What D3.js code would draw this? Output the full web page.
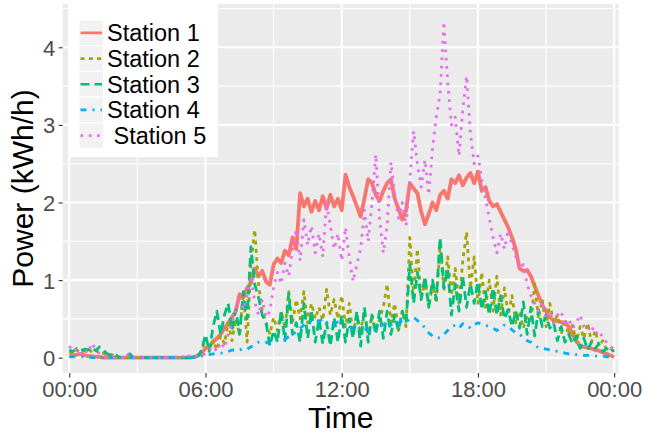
<!DOCTYPE html>
<html><head><meta charset="utf-8">
<script src="https://cdn.jsdelivr.net/npm/d3@7/dist/d3.min.js"></script>
<style>
body{margin:0;background:#fff}
text{font-family:"Liberation Sans",Arial,Helvetica,sans-serif}
</style>
</head><body>
<svg id="chart" width="646" height="436"></svg>
<script>
// sampling grid: one reading every 10 minutes, 00:00 .. 24:00 (hours)
const sampleMinutes = d3.range(0, 1441, 10);

const station1 = [
0.03,0.03,0.04,0.05,0.03,0.02,0.02,0.01,0.01,0,0,0,
0,0,0,0,0,0,0,0,0,0,0,0,
0,0,0,0,0,0,0,0,0,0.01,0.03,0.06,
0.12,0.15,0.2,0.25,0.3,0.38,0.45,0.52,0.6,0.82,0.78,0.9,
0.96,1.15,1.05,1.12,0.98,0.94,1.2,1.28,1.22,1.38,1.32,1.55,
1.4,2.12,1.95,2.05,1.88,2.02,1.9,2.08,1.92,2.1,1.95,2.05,
1.9,2.36,2.2,2.08,1.95,1.82,2.05,2.3,2.25,2.1,2.02,2.15,
2.25,2.3,2.05,1.92,1.78,1.9,2.25,2.18,2.12,1.88,1.72,1.85,
2.0,1.9,2.1,2.15,2.05,2.3,2.25,2.35,2.22,2.32,2.38,2.25,
2.4,2.15,2.2,2.02,1.95,1.98,1.88,1.78,1.68,1.55,1.4,1.15,
1.12,1.13,1.05,0.92,0.8,0.68,0.6,0.52,0.48,0.47,0.46,0.45,
0.4,0.3,0.22,0.15,0.14,0.13,0.12,0.1,0.09,0.07,0.05,0.03,
0.01];
const station2 = [
0.08,0.05,0.1,0.06,0.09,0.12,0.07,0.1,0.05,0.06,0.03,0.04,
0.03,0,0,0,0,0,0,0,0,0,0,0,
0,0,0,0,0,0,0,0,0,0,0.02,0.08,
0.25,0.12,0.22,0.1,0.28,0.18,0.45,0.22,0.5,0.3,0.85,0.2,
1.2,1.65,0.95,0.6,0.45,0.3,0.52,0.35,0.6,0.38,0.85,0.45,
0.75,0.5,0.85,0.45,0.7,0.5,0.65,0.48,0.88,0.55,0.75,0.5,
0.8,0.4,0.7,0.3,0.55,0.35,0.6,0.3,0.55,0.35,0.5,0.65,
0.95,0.45,0.7,0.35,0.6,0.4,1.55,0.8,1.4,0.75,1.0,0.65,
0.95,0.7,1.47,0.85,1.3,0.8,1.15,0.7,1.25,1.62,0.9,1.3,
0.7,1.1,0.65,1.0,0.6,1.05,0.55,0.9,0.55,0.8,0.45,0.6,
0.38,0.55,0.45,0.95,0.5,0.75,0.4,0.7,0.45,0.55,0.3,0.5,
0.28,0.42,0.2,0.4,0.25,0.45,0.2,0.35,0.15,0.22,0.1,0.12,
0.08];
const station3 = [
0.1,0.08,0.12,0.09,0.11,0.1,0.13,0.09,0.14,0.1,0.05,0.03,
0.05,0.01,0,0.01,0.05,0,0,0,0,0,0,0,
0,0,0,0,0,0,0,0,0,0,0.02,0.1,
0.3,0.08,0.4,0.6,0.3,0.55,0.7,0.35,0.62,0.3,0.85,0.5,
1.43,0.95,0.78,0.55,0.45,0.15,0.35,0.2,0.6,0.22,0.83,0.3,
0.45,0.2,0.7,0.25,0.6,0.2,0.5,0.18,0.45,0.15,0.52,0.2,
0.55,0.2,0.5,0.25,0.6,0.15,0.65,0.2,0.55,0.3,0.6,0.25,
0.6,0.3,0.55,0.35,0.6,0.45,1.2,0.7,1.1,0.75,1.05,0.65,
1.0,0.75,1.55,0.9,1.15,0.55,0.95,0.6,1.05,0.65,0.95,0.7,
0.98,0.62,0.85,0.55,0.9,0.55,0.8,0.5,0.62,0.4,0.6,0.38,
0.72,0.3,0.65,0.28,0.62,0.4,0.55,0.38,0.45,0.22,0.4,0.2,
0.3,0.18,0.28,0.12,0.25,0.1,0.2,0.12,0.18,0.08,0.12,0.07,
0.1];
const station4 = [
0.01,0.01,0.01,0.01,0.01,0.01,0,0,0,0,0,0,
0,0,0,0,0,0,0,0,0,0,0,0,
0,0,0,0,0,0,0,0,0,0,0,0.02,
0.03,0.04,0.05,0.05,0.06,0.06,0.08,0.1,0.09,0.1,0.12,0.11,
0.14,0.16,0.2,0.21,0.2,0.18,0.2,0.22,0.21,0.24,0.27,0.3,
0.33,0.38,0.42,0.45,0.48,0.5,0.47,0.5,0.45,0.48,0.44,0.46,
0.42,0.45,0.4,0.38,0.42,0.36,0.38,0.34,0.38,0.35,0.4,0.43,
0.45,0.42,0.46,0.44,0.48,0.46,0.5,0.52,0.48,0.45,0.38,0.32,
0.28,0.25,0.26,0.3,0.35,0.4,0.42,0.38,0.44,0.42,0.38,0.42,
0.45,0.43,0.42,0.4,0.38,0.35,0.38,0.42,0.4,0.36,0.32,0.3,
0.26,0.22,0.2,0.16,0.13,0.12,0.11,0.1,0.1,0.08,0.07,0.06,
0.05,0.05,0.04,0.04,0.03,0.03,0.03,0.02,0.02,0.02,0.01,0.01,
0];
const station5 = [
0.15,0.08,0.12,0.05,0.1,0.06,0.19,0.1,0.05,0.03,0.02,0,
0,0,0,0.06,0,0,0,0,0,0,0,0,
0,0,0,0,0,0,0,0.06,0,0.01,0.02,0.03,
0.05,0.1,0.15,0.08,0.2,0.12,0.3,0.45,0.6,0.78,0.62,0.8,
1.05,0.72,0.55,0.75,0.52,0.6,0.9,1.1,0.95,1.22,1.05,1.4,
1.65,1.25,1.78,1.45,1.7,1.35,1.6,1.3,2.0,1.7,1.4,1.6,
1.25,1.68,1.3,0.98,1.2,1.4,1.9,1.5,2.0,2.62,1.8,1.35,
1.7,2.52,2.1,1.8,2.0,1.7,2.3,2.92,2.5,2.2,2.55,2.1,
2.7,3.1,3.4,4.33,3.55,3.0,3.1,2.6,3.2,3.63,2.9,2.5,
2.6,2.3,2.05,1.8,1.55,1.35,1.6,1.4,1.65,1.45,1.3,1.15,
1.2,0.95,0.8,0.7,0.6,0.72,0.5,0.6,0.45,0.55,0.6,0.4,
0.5,0.38,0.45,0.55,0.4,0.35,0.42,0.3,0.35,0.25,0.2,0.15,
0.1];

const seriesNames = ["Station 1","Station 2","Station 3","Station 4"," Station 5"];
const seriesColors = ["#F8766D","#A3A500","#00BF7D","#00B0F6","#E76BF3"];
const seriesDashes = [null,"4,4.3","9,5","6,6,2,6","2.6,5.7"];
const xTickHours = [0,6,12,18,24];
const xTickLabels = ["00:00","06:00","12:00","18:00","00:00"];
const yTickValues = [0,1,2,3,4];
const xMinorHours = [3,9,15,21];
const yMinorValues = [0.5,1.5,2.5,3.5,4.5];

const allSeries = [station1,station2,station3,station4,station5];

const svg = d3.select("#chart");
const panel = {left:62.7, right:618.7, top:4, bottom:373};

const x = d3.scaleLinear().domain([-0.29, 24.2]).range([panel.left, panel.right]);
const y = d3.scaleLinear().domain([-0.197, 4.558]).range([panel.bottom, panel.top]);

svg.append("rect").attr("x",panel.left).attr("y",panel.top)
  .attr("width",panel.right-panel.left).attr("height",panel.bottom-panel.top)
  .attr("fill","#EBEBEB");

const grid = svg.append("g");
grid.selectAll(".ymin").data(yMinorValues).join("line")
  .attr("x1",panel.left).attr("x2",panel.right)
  .attr("y1",d=>y(d)).attr("y2",d=>y(d))
  .attr("stroke","#fff").attr("stroke-width",1.1);
grid.selectAll(".xmin").data(xMinorHours).join("line")
  .attr("y1",panel.top).attr("y2",panel.bottom)
  .attr("x1",d=>x(d)).attr("x2",d=>x(d))
  .attr("stroke","#fff").attr("stroke-width",1.1);
grid.selectAll(".ymaj").data(yTickValues).join("line")
  .attr("x1",panel.left).attr("x2",panel.right)
  .attr("y1",d=>y(d)).attr("y2",d=>y(d))
  .attr("stroke","#fff").attr("stroke-width",2.1);
grid.selectAll(".xmaj").data(xTickHours).join("line")
  .attr("y1",panel.top).attr("y2",panel.bottom)
  .attr("x1",d=>x(d)).attr("x2",d=>x(d))
  .attr("stroke","#fff").attr("stroke-width",2.1);

const line = d3.line()
  .x((d,i)=>x(sampleMinutes[i]/60))
  .y(d=>y(d));

const clip = svg.append("clipPath").attr("id","pc").append("rect")
  .attr("x",panel.left).attr("y",panel.top)
  .attr("width",panel.right-panel.left).attr("height",panel.bottom-panel.top);

const lines = svg.append("g").attr("clip-path","url(#pc)");
allSeries.forEach((s,k)=>{
  lines.append("path").datum(s)
    .attr("d",line)
    .attr("fill","none")
    .attr("stroke",seriesColors[k])
    .attr("stroke-width", k===0 ? 3.8 : 2.8)
    .attr("stroke-linejoin","round")
    .attr("stroke-linecap","butt")
    .attr("stroke-dasharray",seriesDashes[k]);
});

// axes
const xAxis = d3.axisBottom(x).tickValues(xTickHours)
  .tickFormat((d,i)=>xTickLabels[i]).tickSize(4.5).tickPadding(3.5);
const gx = svg.append("g").attr("transform",`translate(0,${panel.bottom})`).call(xAxis);
const yAxis = d3.axisLeft(y).tickValues(yTickValues)
  .tickFormat(d3.format("d")).tickSize(4).tickPadding(3.5);
const gy = svg.append("g").attr("transform",`translate(${panel.left},0)`).call(yAxis);
[gx,gy].forEach(g=>{
  g.select(".domain").remove();
  g.selectAll(".tick line").attr("stroke","#333333").attr("stroke-width",1.1);
  g.selectAll(".tick text").attr("fill","#4D4D4D").style("font-size","22px")
    .style("font-family",'"Liberation Sans",Arial,sans-serif');
});
gy.selectAll(".tick text").attr("dy","0.36em");

svg.append("text").attr("x",(panel.left+panel.right)/2).attr("y",428)
  .attr("text-anchor","middle").style("font-size","30px").attr("fill","#000")
  .text("Time");
svg.append("text").attr("transform",`translate(33,${(panel.top+panel.bottom)/2}) rotate(-90)`)
  .attr("text-anchor","middle").style("font-size","30px").attr("fill","#000")
  .text("Power (kWh/h)");

// legend
const lg = svg.append("g");
lg.append("rect").attr("x",68).attr("y",4).attr("width",150).attr("height",153).attr("fill","#fff");
const keyH = 25.7, keyTop = 20, keyX = 79, keyW = 24.5;
seriesNames.forEach((name,k)=>{
  const ky = keyTop + k*keyH;
  lg.append("rect").attr("x",keyX).attr("y",ky).attr("width",keyW).attr("height",keyH)
    .attr("fill","#F2F2F2").attr("stroke","#fff").attr("stroke-width",1);
  lg.append("line").attr("x1",keyX+1.5).attr("x2",keyX+keyW-1.5)
    .attr("y1",ky+keyH/2).attr("y2",ky+keyH/2)
    .attr("stroke",seriesColors[k]).attr("stroke-width",2.7)
    .attr("stroke-dasharray",seriesDashes[k]);
  lg.append("text").attr("x",107).attr("y",ky+keyH/2).attr("dy","0.36em")
    .style("font-size","23.5px").style("white-space","pre").attr("xml:space","preserve")
    .attr("fill","#000").text(name);
});
</script>
</body></html>
